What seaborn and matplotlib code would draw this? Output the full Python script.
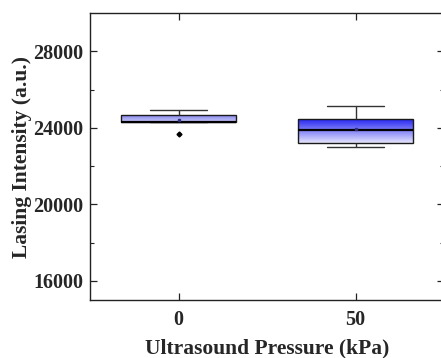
import numpy as np
import pandas as pd
import matplotlib
matplotlib.use("Agg")
import matplotlib.pyplot as plt
import seaborn as sns
from matplotlib.colors import LinearSegmentedColormap

# Data
pressure_labels = ["0", "50"]
intensity_0kpa = [23650, 24300, 24300, 24300, 24300, 24500, 24680, 24800, 24940]
intensity_50kpa = [22990, 23100, 23200, 23500, 23880, 24200, 24470, 24800, 25115]

df = pd.DataFrame({
    "Pressure": [pressure_labels[0]] * len(intensity_0kpa) + [pressure_labels[1]] * len(intensity_50kpa),
    "Intensity": intensity_0kpa + intensity_50kpa,
})

sns.set_theme(style="ticks")
plt.rcParams["font.family"] = ["Liberation Serif", "DejaVu Serif"]
plt.rcParams["font.weight"] = "bold"

fig = plt.figure(figsize=(4.41, 3.58), dpi=100)
ax = fig.add_axes([90 / 441, 1 - 300 / 358, 354 / 441, 287 / 358])

edge = "#1a1a1a"
sns.boxplot(
    data=df, x="Pressure", y="Intensity", order=pressure_labels, ax=ax,
    width=0.65, whis=1.5, color="white", linewidth=1.0, linecolor=edge,
    showmeans=True,
    meanprops=dict(marker="s", markersize=1.8, markerfacecolor="#30307a", markeredgecolor="#30307a"),
    medianprops=dict(color="black", linewidth=1.6),
    whiskerprops=dict(color="#333333", linewidth=1.0),
    capprops=dict(color="#333333", linewidth=1.0),
    flierprops=dict(marker="D", markersize=2.5, markerfacecolor="black", markeredgecolor="black"),
)

# gradient fills for boxes
grad_colors = [
    [(0.50, 0.50, 0.93), (0.78, 0.78, 0.97)],
    [(0.12, 0.12, 0.95), (0.90, 0.90, 0.99)],
]
patches = [p for p in ax.patches]
for patch, (ctop, cbot) in zip(patches, grad_colors):
    bb = patch.get_extents().transformed(ax.transData.inverted())
    x0, x1 = bb.x0, bb.x1
    y0, y1 = bb.y0, bb.y1
    cmap = LinearSegmentedColormap.from_list("g", [cbot, ctop])
    grad = np.linspace(0, 1, 256).reshape(-1, 1)
    im = ax.imshow(grad, extent=(x0, x1, y0, y1), origin="lower", cmap=cmap,
                   aspect="auto", zorder=patch.get_zorder() + 0.1)
    im.set_clip_path(patch)
    patch.set_facecolor("none")
    patch.set_zorder(patch.get_zorder() + 0.2)

# cap widths to half of box width
for line in ax.lines:
    xd = np.asarray(line.get_xdata(), dtype=float)
    yd = np.asarray(line.get_ydata(), dtype=float)
    if len(xd) == 2 and yd[0] == yd[1] and xd[0] != xd[1]:
        c = xd.mean()
        half = abs(xd[1] - xd[0]) / 2
        if abs(2 * half - 0.65) > 1e-6:
            line.set_xdata([c - 0.1625, c + 0.1625])
    line.set_zorder(3)

ax.set_xlim(-0.5, 1.5)
ax.set_ylim(15000, 30000)
ax.set_yticks([16000, 20000, 24000, 28000])
ax.set_yticks([18000, 22000, 26000], minor=True)
ax.set_xlabel("Ultrasound Pressure (kPa)", fontsize=15.5, fontweight="bold", labelpad=6)
ax.set_ylabel("Lasing Intensity (a.u.)", fontsize=15.5, fontweight="bold", labelpad=1)

ax.tick_params(axis="both", which="major", direction="in", length=5, width=0.9,
               color="#222222", labelsize=14.5, top=True, right=True)
ax.tick_params(axis="x", which="major", pad=7)
ax.tick_params(axis="y", which="major", pad=5)
ax.tick_params(axis="y", which="minor", direction="in", length=3, width=0.8,
               color="#222222", right=True, left=True)
for lab in ax.get_xticklabels() + ax.get_yticklabels():
    lab.set_fontweight("bold")
for s in ax.spines.values():
    s.set_color("#222222")
    s.set_linewidth(1.0)

fig.savefig("out.png", dpi=100)
